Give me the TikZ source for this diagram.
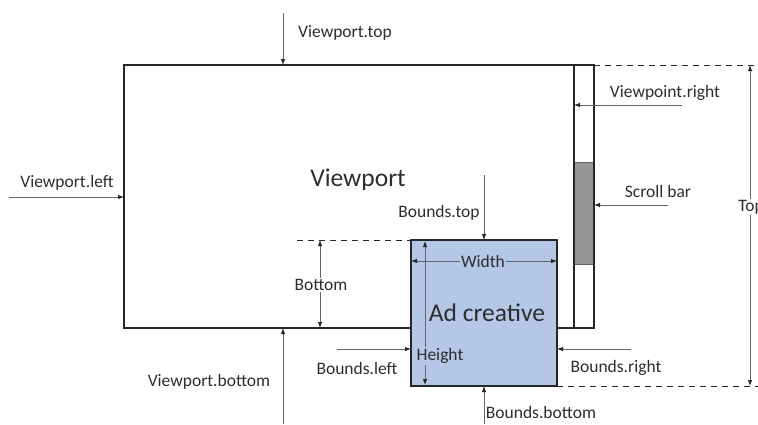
\documentclass[tikz,border=0pt]{standalone}
\usepackage{fontspec}
\setmainfont{Carlito}
\usetikzlibrary{arrows.meta}
\definecolor{adblue}{RGB}{180,199,231}
\definecolor{thumbgray}{RGB}{150,150,150}
\definecolor{framecol}{RGB}{38,38,38}
\definecolor{linecol}{RGB}{100,100,100}
\definecolor{txtcol}{RGB}{45,45,45}
\tikzset{
  frame/.style={draw=framecol, line width=1.8pt, inner sep=0pt, outer sep=0pt},
  lab/.style={font=\fontsize{17.5}{20}\selectfont, text=txtcol, inner sep=1pt},
  big/.style={font=\fontsize{25.5}{28}\selectfont, text=txtcol, inner sep=1pt},
  arr/.style={draw=linecol, line width=0.9pt, -{Latex[length=6pt,width=4.5pt,color=framecol]}},
  darr/.style={draw=linecol, line width=0.9pt, {Latex[length=6pt,width=4.5pt,color=framecol]}-{Latex[length=6pt,width=4.5pt,color=framecol]}},
  guideline/.style={draw=framecol, line width=0.9pt, dash pattern=on 6pt off 5pt}
}
\begin{document}
\begin{tikzpicture}[x=1pt,y=-1pt]
\useasboundingbox (0,0) rectangle (758,424);
% viewport and scroll bar
\node[frame, minimum width=450pt, minimum height=263pt, anchor=north west] (vp) at (124,65) {};
\node[fill=thumbgray, draw=linecol, line width=0.6pt, minimum width=20pt, minimum height=102pt, inner sep=0pt, anchor=north west] (thumb) at (574,162) {};
\node[frame, minimum width=20pt, minimum height=263pt, anchor=north west] (sb) at (574,65) {};
% ad creative
\node[frame, fill=adblue, minimum width=146pt, minimum height=146pt, anchor=north west] (ad) at (411,240) {};
\node[big] (vptext) at (358,180) {Viewport};
\node[big] (adtext) at (487,313) {Ad creative};
% dashed guide lines
\coordinate (dashTR) at (758,65);
\coordinate (dashBR) at (758,386);
\coordinate (dashL) at (297,240);
\draw[guideline] (sb.north east) -- (dashTR);
\draw[guideline] (ad.south east) -- (dashBR);
\draw[guideline] (dashL) -- (ad.north west);
% Viewport.top
\coordinate (vtS) at (283,13);
\draw[arr] (vtS) -- (vtS |- vp.north);
\node[lab] (vtL) at (345,33) {Viewport.top};
% Viewport.left
\coordinate (vlS) at (9,197);
\draw[arr] (vlS) -- (vlS -| vp.west);
\node[lab] (vlL) at (67,183) {Viewport.left};
% Viewpoint.right
\coordinate (vrS) at (682,105);
\draw[arr] (vrS) -- (vrS -| sb.west);
\node[lab] (vrL) at (665,93) {Viewpoint.right};
% Scroll bar
\coordinate (sbS) at (668,205);
\draw[arr] (sbS) -- (sbS -| sb.east);
\node[lab] (sbL) at (658,191) {Scroll bar};
% Top
\coordinate (topA) at (750,65);
\coordinate (topB) at (750,386);
\draw[darr] (topA) -- (topB);
\node[lab, fill=white] (topL) at (751,207) {Top};
% Viewport.bottom
\coordinate (vbS) at (283,424);
\draw[arr] (vbS) -- (vbS |- vp.south);
\node[lab] (vbL) at (209,382) {Viewport.bottom};
% Bottom
\coordinate (botA) at (320,240);
\coordinate (botB) at (320,328);
\draw[darr] (botA) -- (botB);
\node[lab, fill=white] (botL) at (321,285) {Bottom};
% Bounds.top
\coordinate (btS) at (484,175);
\draw[arr] (btS) -- (btS |- ad.north);
\node[lab] (btL) at (439,213) {Bounds.top};
% Bounds.left
\coordinate (blS) at (337,349);
\draw[arr] (blS) -- (blS -| ad.west);
\node[lab] (blL) at (357,368) {Bounds.left};
% Bounds.right
\coordinate (brS) at (631,349);
\draw[arr] (brS) -- (brS -| ad.east);
\node[lab] (brL) at (616,368) {Bounds.right};
% Bounds.bottom
\coordinate (bbS) at (484,424);
\draw[arr] (bbS) -- (bbS |- ad.south);
\node[lab] (bbL) at (541,412) {Bounds.bottom};
% Width
\coordinate (wA) at (411,261);
\coordinate (wB) at (557,261);
\draw[darr] (wA) -- (wB);
\node[lab, fill=adblue] (wL) at (483,261) {Width};
% Height
\coordinate (hA) at (425,241);
\coordinate (hB) at (425,385);
\draw[darr] (hA) -- (hB);
\node[lab, fill=adblue] (hL) at (440,356) {Height};
\end{tikzpicture}
\end{document}
